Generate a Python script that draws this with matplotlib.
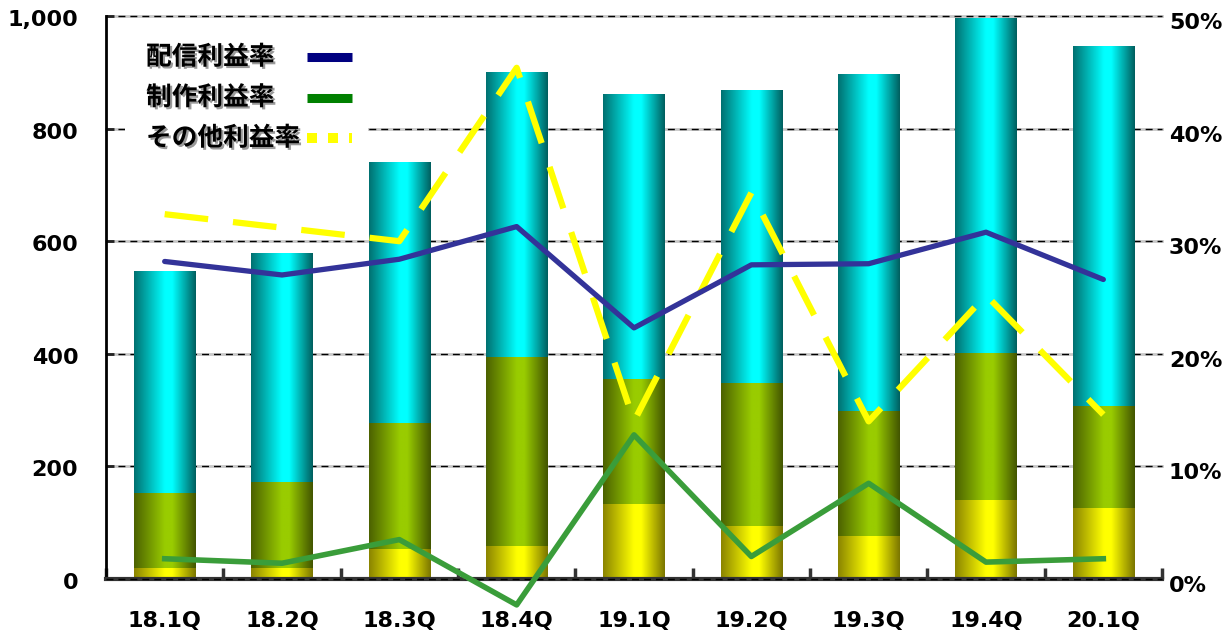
import numpy as np
import matplotlib
matplotlib.use("Agg")
import matplotlib.pyplot as plt
import matplotlib.patheffects as pe
import matplotlib.transforms as mtransforms
from matplotlib.colors import LinearSegmentedColormap
from matplotlib.lines import Line2D
from matplotlib.patches import Rectangle

quarters = ["18.1Q", "18.2Q", "18.3Q", "18.4Q", "19.1Q", "19.2Q", "19.3Q", "19.4Q", "20.1Q"]

# sales by segment, stacked bottom to top
other_sales = [20, 20, 53, 59, 134, 95, 77, 140, 126]
production_sales = [133, 153, 224, 335, 221, 253, 221, 261, 181]
distribution_sales = [394, 406, 462, 505, 505, 519, 597, 595, 638]

# profit margins in %
distribution_margin = [28.2, 27.0, 28.4, 31.3, 22.3, 27.9, 28.0, 30.8, 26.6]
production_margin = [1.8, 1.4, 3.5, -2.3, 12.8, 2.0, 8.5, 1.5, 1.8]
other_margin = [32.4, 31.2, 30.0, 45.4, 14.0, 34.3, 14.0, 25.2, 14.6]

left_ticks = [0, 200, 400, 600, 800, 1000]
left_ticklabels = ["0", "200", "400", "600", "800", "1,000"]
right_ticks = [0, 10, 20, 30, 40, 50]
right_ticklabels = ["0%", "10%", "20%", "30%", "40%", "50%"]

legend_labels = ["配信利益率", "制作利益率", "その他利益率"]

W, H = 1230, 630
fig = plt.figure(figsize=(W / 100, H / 100), dpi=100)
ax = fig.add_axes([106 / W, 1 - 579 / H, (1162 - 106) / W, (579 - 16) / H])
ax2 = ax.twinx()


def cylinder(left, mid, right):
    return LinearSegmentedColormap.from_list(
        "", [(0.0, left), (0.5, mid), (0.62, mid), (1.0, right)])


cmaps = [
    cylinder("#8a8400", "#ffff00", "#7a7500"),
    cylinder("#4b6100", "#99cc00", "#425400"),
    cylinder("#007070", "#00ffff", "#005e5e"),
]

x = np.arange(len(quarters))
grad = np.linspace(0, 1, 256).reshape(1, -1)
bottom = np.zeros(len(quarters))
for vals, cmap in zip([other_sales, production_sales, distribution_sales], cmaps):
    bars = ax.bar(x, vals, 0.52, bottom=bottom, color="none", linewidth=0)
    for r in bars:
        ax.imshow(grad, cmap=cmap, aspect="auto", interpolation="bilinear", zorder=2,
                  extent=(r.get_x(), r.get_x() + r.get_width(),
                          r.get_y(), r.get_y() + r.get_height()))
    bottom += np.array(vals)

ax.set_xlim(-0.5, len(quarters) - 0.5)
ax.set_ylim(0, 1000)

# grid: light grey band with black dashes on top
for t in left_ticks[1:]:
    ax.axhline(t, color="#c8c8c8", lw=2, zorder=1, clip_on=False)
    ax.axhline(t, color="black", lw=1, dashes=(5, 3.6), zorder=1.5, clip_on=False)
ax.axhline(0, color="black", lw=1, dashes=(5, 3.6), zorder=3, clip_on=False)

for s in ["top", "right"]:
    ax.spines[s].set_visible(False)
    ax2.spines[s].set_visible(False)
ax2.spines["left"].set_visible(False)
ax2.spines["bottom"].set_visible(False)
ax.spines["left"].set_color("black")
ax.spines["left"].set_linewidth(2)
ax.spines["bottom"].set_color("#333333")
ax.spines["bottom"].set_linewidth(3)

ax.set_yticks(left_ticks)
ax.set_yticklabels(left_ticklabels)
ax.tick_params(axis="y", direction="in", length=6, width=2, color="#222222",
               labelsize=16, pad=20)
ax.set_xticks(x)
ax.set_xticklabels(quarters)
ax.set_xticks(np.arange(len(quarters) + 1) - 0.5, minor=True)
ax.tick_params(axis="x", which="major", length=0, labelsize=16, pad=23)
ax.tick_params(axis="x", which="minor", direction="in", length=8, width=2.5,
               color="#333333")
for lab in ax.get_xticklabels() + ax.get_yticklabels():
    lab.set_fontweight("bold")

# margin lines on the right axis
ax2.set_ylim(0, 50)
ax2.plot(x, other_margin, color="#ffff00", lw=4.5, dashes=(7, 4),
         solid_capstyle="butt", dash_capstyle="butt", zorder=2)
ax2.plot(x, production_margin, color="#3a9d3a", lw=4, zorder=3, clip_on=False)
ax2.plot(x, distribution_margin, color="#333399", lw=3.8, zorder=4,
         solid_capstyle="round")
ax2.set_yticks(right_ticks)
ax2.set_yticklabels(right_ticklabels)
ax2.tick_params(axis="y", length=0, labelsize=16, pad=5)
ax2.set_xlim(-0.5, len(quarters) - 0.5)

# nudge value labels slightly below their grid lines
shift_l = mtransforms.ScaledTranslation(0, -2 / 100, fig.dpi_scale_trans)
shift_r = mtransforms.ScaledTranslation(0, -5 / 100, fig.dpi_scale_trans)
for lab in ax.get_yticklabels():
    lab.set_transform(lab.get_transform() + shift_l)
for lab in ax2.get_yticklabels():
    lab.set_fontweight("bold")
    lab.set_transform(lab.get_transform() + shift_r)

# legend box
fig.add_artist(Rectangle((125 / W, 1 - 160 / H), (368 - 125) / W, 130 / H,
                         transform=fig.transFigure, facecolor="white",
                         edgecolor="none", zorder=1))
legend_styles = [
    dict(color="#000080", lw=6.5, solid_capstyle="butt"),
    dict(color="#008000", lw=6.5, solid_capstyle="butt"),
    dict(color="#ffff00", lw=7.2, dashes=(1, 1.1), dash_capstyle="butt"),
]
for i, (label, style) in enumerate(zip(legend_labels, legend_styles)):
    yc = 1 - (57 + 40.5 * i) / H
    fig.text(146 / W, yc, label, fontsize=18.5, fontweight="bold", va="center",
             family=["Noto Sans CJK JP", "DejaVu Sans"], zorder=4,
             path_effects=[pe.withSimplePatchShadow(offset=(1.5, -1.5),
                                                    shadow_rgbFace="#555555",
                                                    alpha=0.6)])
    fig.add_artist(Line2D([307 / W, 352 / W], [yc, yc], transform=fig.transFigure,
                          zorder=4, **style))

fig.savefig("out.png", dpi=100)
